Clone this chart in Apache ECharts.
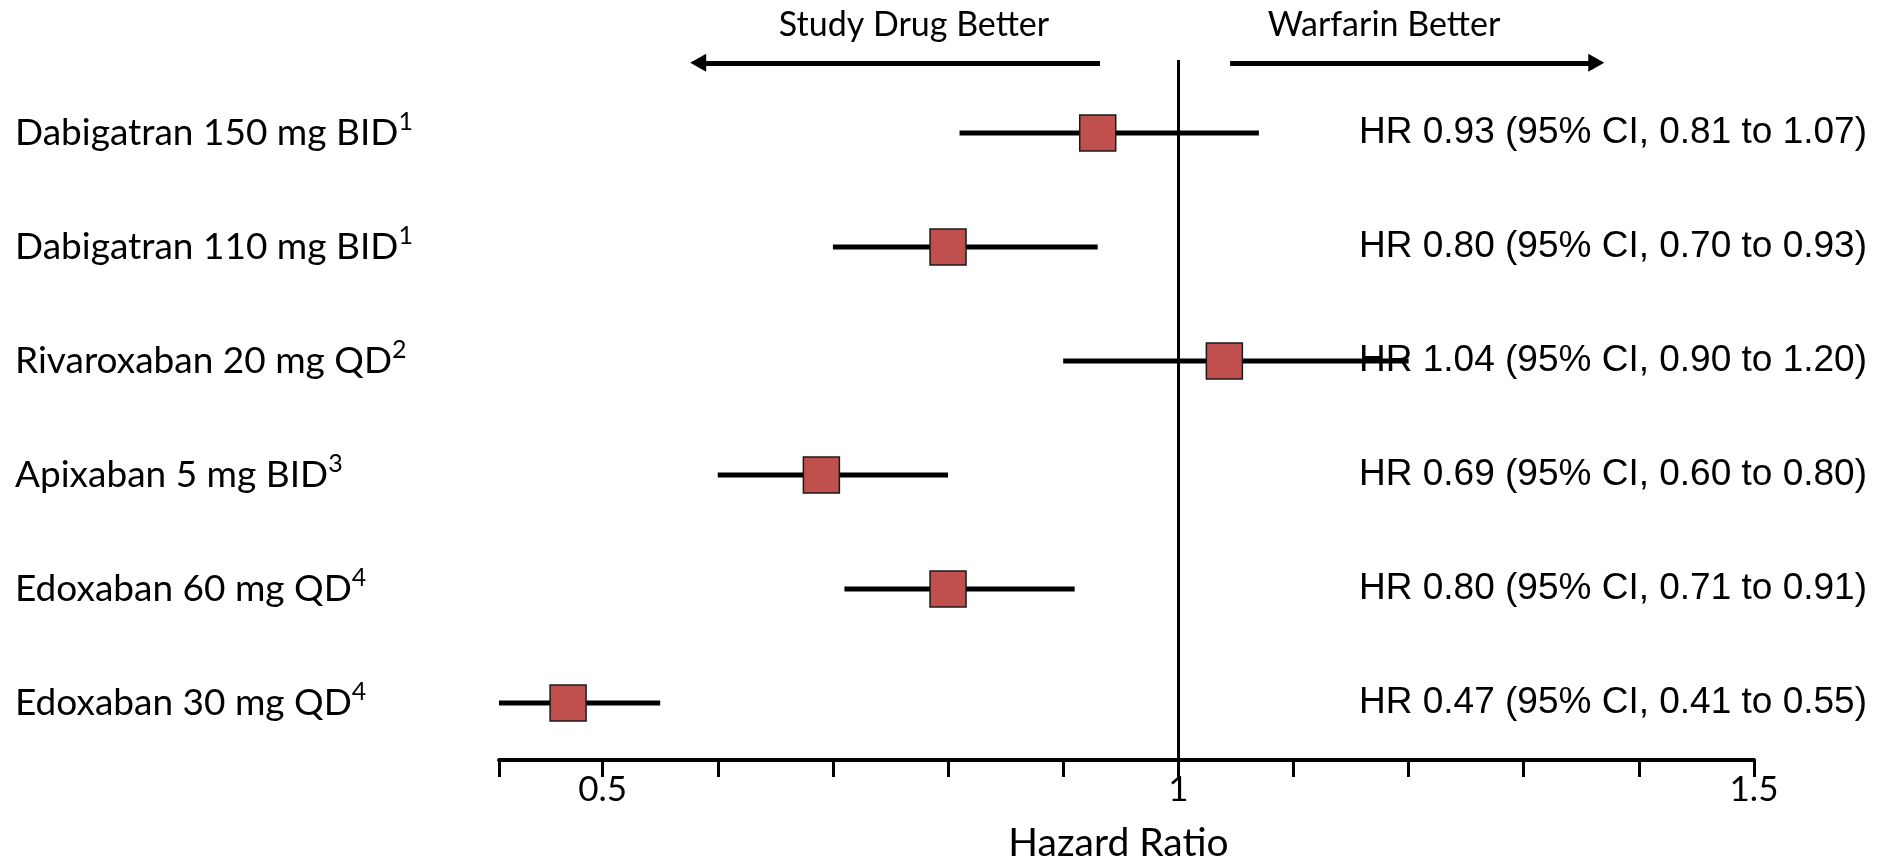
<!DOCTYPE html>
<html>
<head>
<meta charset="utf-8">
<script src="https://cdn.jsdelivr.net/npm/echarts@6/dist/echarts.min.js"></script>
<style>
  html, body { margin: 0; padding: 0; background: #fff; }
  #chart { width: 1882px; height: 859px; }
</style>
</head>
<body>
<div id="chart"></div>
<script>
// ---- data ----
const categories = ['Dabigatran 150 mg BID', 'Dabigatran 110 mg BID', 'Rivaroxaban 20 mg QD', 'Apixaban 5 mg BID', 'Edoxaban 60 mg QD', 'Edoxaban 30 mg QD'];
const refNotes = ['1', '1', '2', '3', '4', '4'];
const hr = [0.93, 0.80, 1.04, 0.69, 0.80, 0.47];
const ciLow = [0.81, 0.70, 0.90, 0.60, 0.71, 0.41];
const ciHigh = [1.07, 0.93, 1.20, 0.80, 0.91, 0.55];
const tickValues = [0.41, 0.5, 0.6, 0.7, 0.8, 0.9, 1.0, 1.1, 1.2, 1.3, 1.4, 1.5];
const tickLabelValues = [0.5, 1, 1.5];
const referenceValue = 1;
const leftArrow = [0.932, 0.583];   // from, to (hazard ratio)
const rightArrow = [1.045, 1.363];  // from, to (hazard ratio)
const leftArrowText = 'Study Drug Better';
const rightArrowText = 'Warfarin Better';
const axisTitle = 'Hazard Ratio';

// ---- chart ----
const chart = echarts.init(document.getElementById('chart'));
const rowIdx = categories.map((_, i) => i);
const hrText = hr.map((v, i) => 'HR ' + v.toFixed(2) + ' (95% CI, ' + ciLow[i].toFixed(2) + ' to ' + ciHigh[i].toFixed(2) + ')');
const arrowY = -0.615;
const yMin = -0.64, yMax = 5.5;

const labelFont = 'Lato';
const arrowLine = { color: '#000', width: 5, type: 'solid' };
const option = {
  backgroundColor: '#ffffff',
  animation: false,
  grid: { left: 499, right: 128, top: 60, bottom: 99, containLabel: false, outerBoundsMode: 'none' },
  xAxis: {
    type: 'value',
    min: 0.41,
    max: 1.5,
    splitLine: { show: false },
    axisLine: { show: true, onZero: false, lineStyle: { color: '#000', width: 4 } },
    axisTick: { show: true, customValues: tickValues, length: 17, lineStyle: { color: '#000', width: 3 } },
    axisLabel: {
      customValues: tickLabelValues,
      formatter: v => String(v),
      color: '#000', fontFamily: labelFont, fontSize: 35, margin: 12
    },
    name: axisTitle,
    nameLocation: 'middle',
    nameGap: 64,
    nameTextStyle: { color: '#000', fontFamily: labelFont, fontSize: 39, padding: [0, 16, 0, 0] }
  },
  yAxis: [
    {
      type: 'value', inverse: true, min: yMin, max: yMax,
      axisLine: { show: false }, axisTick: { show: false }, splitLine: { show: false },
      axisLabel: {
        customValues: rowIdx,
        align: 'left',
        margin: 484,
        formatter: v => '{b|' + categories[v] + '}{s|' + refNotes[v] + '}',
        rich: {
          b: { fontFamily: labelFont, fontSize: 37, color: '#000' },
          s: { fontFamily: labelFont, fontSize: 25, color: '#000', padding: [0, 0, 22, 0] }
        }
      }
    },
    {
      type: 'value', inverse: true, min: yMin, max: yMax, position: 'right',
      axisLine: { show: false }, axisTick: { show: false }, splitLine: { show: false },
      axisLabel: {
        customValues: rowIdx,
        align: 'right',
        margin: 113,
        formatter: v => hrText[v],
        fontFamily: 'Liberation Sans', fontSize: 37, color: '#000'
      }
    }
  ],
  series: [
    {
      type: 'custom',
      yAxisIndex: 0,
      z: 2,
      data: rowIdx.map(i => [ciLow[i], ciHigh[i], i]),
      encode: { x: [0, 1], y: 2 },
      renderItem: function (params, api) {
        const p1 = api.coord([api.value(0), api.value(2)]);
        const p2 = api.coord([api.value(1), api.value(2)]);
        return {
          type: 'line',
          shape: { x1: p1[0], y1: p1[1], x2: p2[0], y2: p2[1] },
          style: { stroke: '#000', lineWidth: 5 }
        };
      }
    },
    {
      type: 'scatter',
      yAxisIndex: 0,
      z: 5,
      symbol: 'rect',
      symbolSize: 36,
      data: rowIdx.map(i => [hr[i], i]),
      itemStyle: { color: '#C0504D', borderColor: '#1a1a1a', borderWidth: 1.5, opacity: 1 },
      markLine: {
        silent: true,
        animation: false,
        label: { show: false },
        data: [
          [{ xAxis: referenceValue, yAxis: yMin, symbol: 'none' }, { xAxis: referenceValue, yAxis: yMax, symbol: 'none' }],
          [{ coord: [leftArrow[0], arrowY], symbol: 'none', lineStyle: arrowLine }, { coord: [leftArrow[1], arrowY], symbol: 'triangle', symbolSize: [18, 16] }],
          [{ coord: [rightArrow[0], arrowY], symbol: 'none', lineStyle: arrowLine }, { coord: [rightArrow[1], arrowY], symbol: 'triangle', symbolSize: [18, 16] }]
        ],
        lineStyle: { color: '#000', width: 3, type: 'solid' }
      }
    }
  ],
  graphic: [
    { type: 'text', x: 914, y: 25, style: { text: leftArrowText, fontFamily: labelFont, fontSize: 34, fill: '#000', align: 'center', verticalAlign: 'middle' } },
    { type: 'text', x: 1384, y: 25, style: { text: rightArrowText, fontFamily: labelFont, fontSize: 34, fill: '#000', align: 'center', verticalAlign: 'middle' } }
  ]
};
chart.setOption(option);
</script>
</body>
</html>
